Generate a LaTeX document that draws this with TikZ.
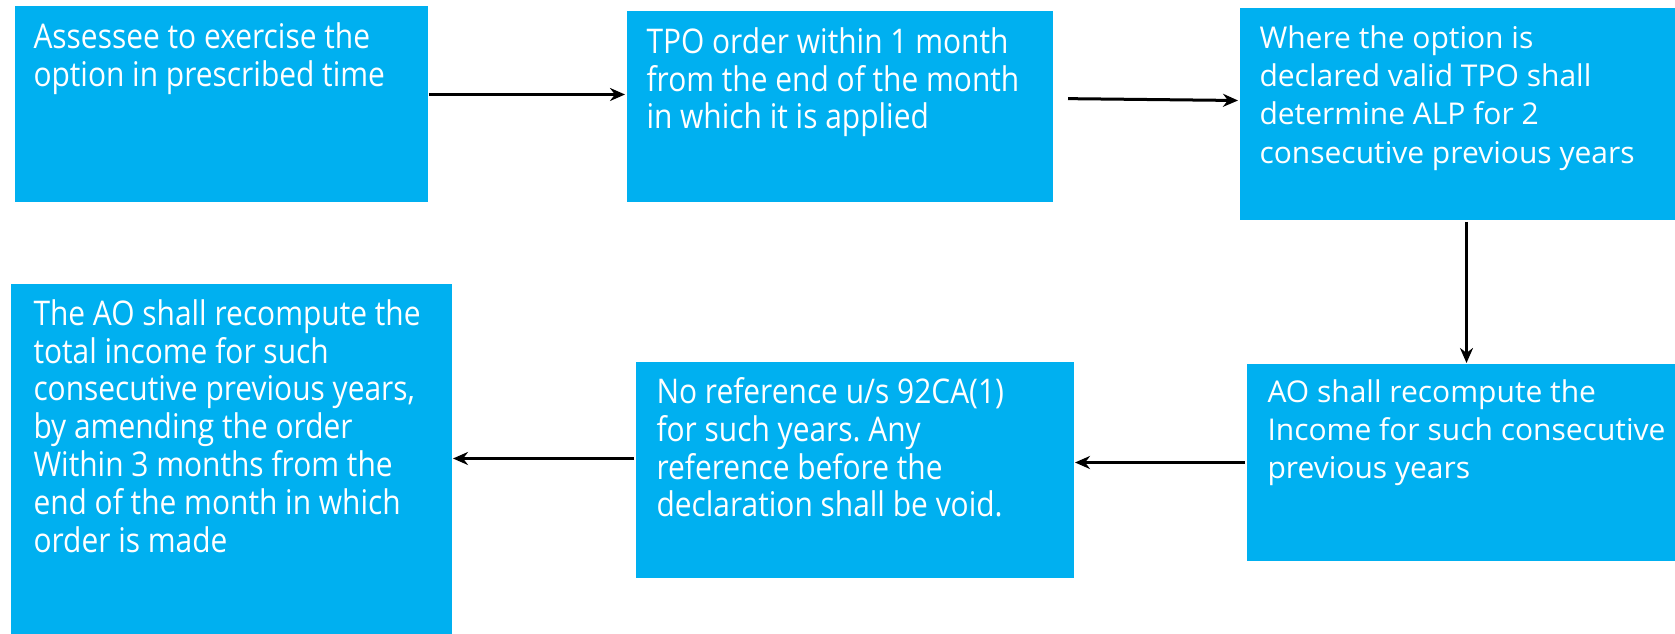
\documentclass[tikz,border=0pt]{standalone}
\usepackage{fontspec}
\setmainfont{Open Sans}
\newfontfamily\narrowfont[FakeStretch=0.88]{Open Sans}
\usetikzlibrary{arrows.meta,calc}
\definecolor{boxblue}{HTML}{00B0F0}
\frenchspacing

\begin{document}
\begin{tikzpicture}[x=1pt,y=1pt,->,>={Stealth[length=15pt,width=13pt]},line width=3pt,
  box/.style={fill=boxblue,draw=none,inner sep=0pt,anchor=north west},
  txt/.style={text=white,align=left,inner sep=0pt,anchor=north west,font=\fontsize{30}{38.3}\selectfont},
  narrow/.style={txt,font=\narrowfont\fontsize{34}{37.8}\selectfont}]
\useasboundingbox (0,0) rectangle (1675,634);
\node[box,minimum width=413,minimum height=196] (n1) at (13,629) {};
\node[box,minimum width=426,minimum height=191] (n2) at (625,624) {};
\node[box,minimum width=437,minimum height=212] (n3) at (1238,627) {};
\node[box,minimum width=441,minimum height=351] (n4) at (9,351) {};
\node[box,minimum width=438,minimum height=216] (n5) at (634,273) {};
\node[box,minimum width=430,minimum height=197] (n6) at (1245,271) {};

\node[narrow] (t1) at ($(n1.north west)+(19,-16)$) {Assessee to exercise the\\option in prescribed time};
\node[narrow] (t2) at ($(n2.north west)+(20,-16)$) {TPO order within 1 month\\from the end of the month\\in which it is applied};
\node[txt] (t3) at ($(n3.north west)+(20,-17)$) {Where the option is\\declared valid TPO shall\\determine ALP for 2\\consecutive previous years};
\node[narrow] (t4) at ($(n4.north west)+(23,-15)$) {The AO shall recompute the\\total income for such\\consecutive previous years,\\by amending the order\\Within 3 months from the\\end of the month in which\\order is made};
\node[narrow] (t5) at ($(n5.north west)+(21,-15)$) {No reference u/s 92CA(1)\\for such years. Any\\reference before the\\declaration shall be void.};
\node[txt] (t6) at ($(n6.north west)+(21,-15)$) {AO shall recompute the\\Income for such consecutive\\previous years};

\draw ([yshift=10]n1.east) -- ([yshift=10]n1.east -| n2.west);
\draw[shorten <=14pt] ([yshift=8.5]n2.east) -- ([yshift=14]n3.west);
\draw ([xshift=8.5]n3.south) -- ([xshift=8.5]n3.south |- n6.north);
\draw ([yshift=0.5]n6.west) -- ([yshift=0.5]n6.west -| n5.east);
\draw ([yshift=12]n5.west) -- ([yshift=12]n5.west -| n4.east);
\end{tikzpicture}
\end{document}
